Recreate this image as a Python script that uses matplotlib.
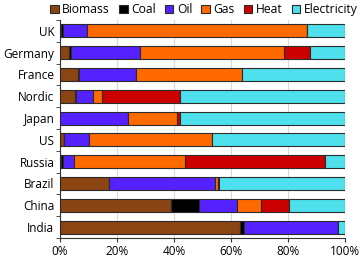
import matplotlib.pyplot as plt
import numpy as np

plt.rcParams['font.family'] = ['Open Sans', 'DejaVu Sans']

countries = ['UK', 'Germany', 'France', 'Nordic', 'Japan', 'US',
             'Russia', 'Brazil', 'China', 'India']
sources = ['Biomass', 'Coal', 'Oil', 'Gas', 'Heat', 'Electricity']

# shares in %, same order as countries
biomass = [0.3, 3.0, 6.3, 5.4, 0.0, 1.4, 0.2, 17.2, 38.9, 63.1]
coal = [0.6, 0.7, 0.2, 0.2, 0.0, 0.1, 0.8, 0.1, 9.8, 1.5]
oil = [8.5, 24.4, 20.0, 6.0, 24.0, 8.5, 4.0, 37.0, 13.5, 32.8]
gas = [77.1, 50.6, 37.2, 3.2, 17.1, 43.2, 38.8, 1.2, 8.2, 0.1]
heat = [0.2, 9.1, 0.2, 27.4, 1.1, 0.3, 49.1, 0.2, 9.8, 0.0]
electricity = [13.3, 12.2, 36.1, 57.8, 57.8, 46.5, 7.1, 44.3, 19.8, 2.5]

colors = ['#8b4513', '#000000', '#5522ff', '#ff6a00', '#cc0000', '#4ee0ec']

fig = plt.figure(figsize=(3.61, 2.62), dpi=100)
ax = fig.add_axes([60 / 361, 24 / 262, 285 / 361, 218 / 262])

y = np.arange(len(countries))
left = np.zeros(len(countries))
for name, vals, c in zip(sources, [biomass, coal, oil, gas, heat, electricity], colors):
    ax.barh(y, vals, left=left, height=0.6, color=c, edgecolor='#2b2b2b',
            linewidth=0.8, label=name, zorder=3)
    left += np.array(vals)

ax.set_ylim(len(countries) - 0.5, -0.5)
ax.set_yticks(y)
ax.set_yticklabels(countries, fontsize=8.5)
ax.set_yticks(np.arange(-0.5, len(countries)), minor=True)
ax.tick_params(axis='y', which='major', length=0, pad=4)
ax.tick_params(axis='y', which='minor', length=3, direction='out', color='#333333')

ax.set_xlim(0, 100)
ax.set_xticks(np.arange(0, 101, 20))
ax.set_xticklabels([f'{v}%' for v in range(0, 101, 20)], fontsize=8.5)
ax.tick_params(axis='x', length=3, direction='out', color='#333333', pad=2)
ax.grid(axis='x', color='#d9d9d9', linewidth=0.8, zorder=0)

for s in ['top', 'right']:
    ax.spines[s].set_visible(False)
for s in ['left', 'bottom']:
    ax.spines[s].set_color('#333333')
    ax.spines[s].set_linewidth(0.8)

fig.legend(loc='upper center', bbox_to_anchor=(0.565, 1.02), ncol=6,
           frameon=False, fontsize=8.7, handlelength=0.7, handleheight=0.7,
           handletextpad=0.3, columnspacing=0.75, borderpad=0.2)

fig.savefig('out.png', dpi=100)
